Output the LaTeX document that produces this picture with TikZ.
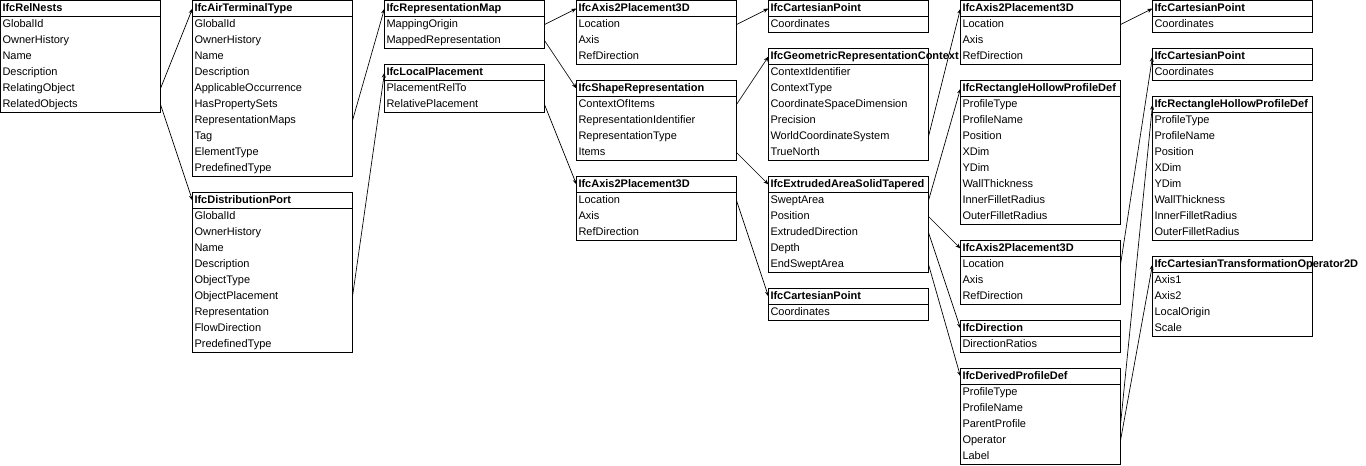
\documentclass[tikz,border=0pt]{standalone}
\usepackage{fontspec}
\setmainfont{Liberation Sans}
\usetikzlibrary{arrows.meta}
\hyphenpenalty=10000
\exhyphenpenalty=10000

\begin{document}
\begin{tikzpicture}[
  x=0.75pt, y=-0.75pt,
  cell/.style={rectangle,anchor=north west,outer sep=0pt,inner xsep=1.5pt,inner ysep=0pt,
               minimum height=12pt,text width=117pt,align=left,
               text height=6pt,text depth=2.2pt,
               font=\fontsize{8.25}{10}\selectfont},
  hdr/.style ={cell,draw,line width=0.75pt,
               font=\fontsize{8.25}{10}\selectfont\bfseries},
  attr/.style={cell},
  frame/.style={draw,line width=0.75pt},
  link/.style={-{Stealth[length=4pt,width=3pt]},line width=0.5pt}
]
\useasboundingbox (-0.5,-0.5) rectangle (1365.5,464.5);
% entity boxes: name/x/y/rows/title/attributes
\foreach \nm/\x/\y/\n/\ttl/\attrs in {
  rn/0/0/6/IfcRelNests/{GlobalId,OwnerHistory,Name,Description,RelatingObject,RelatedObjects},
  att/192/0/10/IfcAirTerminalType/{GlobalId,OwnerHistory,Name,Description,ApplicableOccurrence,HasPropertySets,RepresentationMaps,Tag,ElementType,PredefinedType},
  dp/192/192/9/IfcDistributionPort/{GlobalId,OwnerHistory,Name,Description,ObjectType,ObjectPlacement,Representation,FlowDirection,PredefinedType},
  rm/384/0/2/IfcRepresentationMap/{MappingOrigin,MappedRepresentation},
  lp/384/64/2/IfcLocalPlacement/{PlacementRelTo,RelativePlacement},
  apA/576/0/3/IfcAxis2Placement3D/{Location,Axis,RefDirection},
  sr/576/80/4/IfcShapeRepresentation/{ContextOfItems,RepresentationIdentifier,RepresentationType,Items},
  apB/576/176/3/IfcAxis2Placement3D/{Location,Axis,RefDirection},
  cpA/768/0/1/IfcCartesianPoint/{Coordinates},
  grc/768/48/6/IfcGeometricRepresentationContext/{ContextIdentifier,ContextType,CoordinateSpaceDimension,Precision,WorldCoordinateSystem,TrueNorth},
  eas/768/176/5/IfcExtrudedAreaSolidTapered/{SweptArea,Position,ExtrudedDirection,Depth,EndSweptArea},
  cpB/768/288/1/IfcCartesianPoint/{Coordinates},
  apC/960/0/3/IfcAxis2Placement3D/{Location,Axis,RefDirection},
  rhA/960/80/8/IfcRectangleHollowProfileDef/{ProfileType,ProfileName,Position,XDim,YDim,WallThickness,InnerFilletRadius,OuterFilletRadius},
  apD/960/240/3/IfcAxis2Placement3D/{Location,Axis,RefDirection},
  dir/960/320/1/IfcDirection/{DirectionRatios},
  dpd/960/368/5/IfcDerivedProfileDef/{ProfileType,ProfileName,ParentProfile,Operator,Label},
  cpC/1152/0/1/IfcCartesianPoint/{Coordinates},
  cpD/1152/48/1/IfcCartesianPoint/{Coordinates},
  rhB/1152/96/8/IfcRectangleHollowProfileDef/{ProfileType,ProfileName,Position,XDim,YDim,WallThickness,InnerFilletRadius,OuterFilletRadius},
  cto/1152/256/4/IfcCartesianTransformationOperator2D/{Axis1,Axis2,LocalOrigin,Scale}%
}{
  \node[hdr] (\nm) at (\x,\y) {\ttl};
  \foreach \a [count=\i] in \attrs
    \node[attr] (\nm-\i) at (\x,\y+16*\i) {\a};
  \draw[frame] (\nm.north west) rectangle (\nm-\n.south east);
}
% references from attribute rows
\foreach \s/\d in {rn-5/att,rn-6/dp,att-7/rm,dp-6/lp,rm-1/apA,rm-2/sr,lp-2/apB,
  apA-1/cpA,sr-1/grc,sr-4/eas,apB-1/cpB,grc-5/apC,eas-1/rhA,eas-2/apD,eas-3/dir,
  eas-5/dpd,apC-1/cpC,apD-1/cpD,dpd-3/rhB,dpd-4/cto}
  \draw[link] (\s.east) -- (\d.west);
\end{tikzpicture}
\end{document}
